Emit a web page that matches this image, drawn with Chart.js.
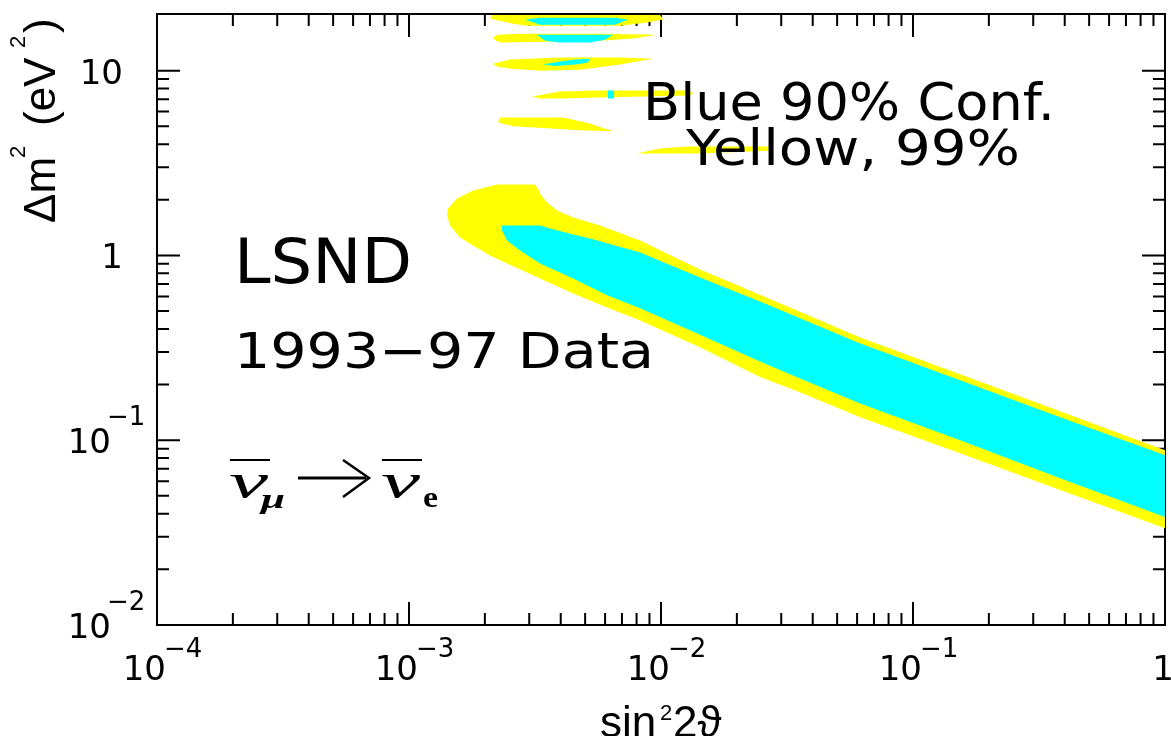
<!DOCTYPE html>
<html>
<head>
<meta charset="utf-8">
<script src="https://cdn.jsdelivr.net/npm/chart.js@4.4.1/dist/chart.umd.min.js"></script>
<style>
  html, body { margin: 0; padding: 0; background: #ffffff; }
  #wrap { width: 1171px; height: 736px; position: relative; }
</style>
</head>
<body>
<div id="wrap"><canvas id="c"></canvas></div>
<script>
// LSND anti-nu_mu -> anti-nu_e oscillation, allowed regions in (sin^2 2theta, dm^2)

// axis tick labels: base text and superscript exponent
const xTickValues = [1e-4, 1e-3, 1e-2, 1e-1, 1];
const xTickBase   = ['10', '10', '10', '10', '1'];
const xTickExp    = ['\u22124', '\u22123', '\u22122', '\u22121', ''];
const yTickValues = [1e-2, 1e-1, 1, 10];
const yTickBase   = ['10', '10', '1', '10'];
const yTickExp    = ['\u22122', '\u22121', '', ''];

// 99% C.L. main band, outline as [sin^2 2theta, dm^2]
const band99 = [
  [2.235e-3, 2.42], [3.162e-3, 2.42], [3.249e-3, 2.30], [3.309e-3, 2.163], [3.529e-3, 1.934],
  [3.867e-3, 1.751], [4.48e-3, 1.605], [5.727e-3, 1.453], [8.26e-3, 1.205], [1.428e-2, 0.840],
  [2.471e-2, 0.612], [3.56e-2, 0.495], [6.17e-2, 0.360], [0.1538, 0.2274], [0.3835, 0.1435],
  [1.0, 0.0883], [1.05, 0.085], [1.05, 0.032], [1.0, 0.0334], [0.3835, 0.0537],
  [0.1538, 0.0851], [6.17e-2, 0.133], [3.56e-2, 0.182], [2.471e-2, 0.220], [1.428e-2, 0.318],
  [8.26e-3, 0.445], [6.11e-3, 0.523], [4.48e-3, 0.623], [3.309e-3, 0.751], [2.449e-3, 0.905],
  [2.096e-3, 1.0], [1.795e-3, 1.133], [1.593e-3, 1.251], [1.455e-3, 1.453], [1.415e-3, 1.645],
  [1.428e-3, 1.795], [1.55e-3, 2.033], [1.795e-3, 2.246]
];

// 90% C.L. main band
const band90 = [
  [2.339e-3, 1.453], [3.309e-3, 1.453], [3.63e-3, 1.399], [4.48e-3, 1.299], [5.228e-3, 1.236],
  [8.26e-3, 1.038], [1.428e-2, 0.760], [2.471e-2, 0.564], [3.56e-2, 0.457], [6.17e-2, 0.334],
  [0.1538, 0.211], [0.3835, 0.133], [1.0, 0.083], [1.05, 0.080], [1.05, 0.037],
  [1.0, 0.0384], [0.3835, 0.0623], [0.1538, 0.100], [6.17e-2, 0.158], [3.56e-2, 0.216],
  [2.471e-2, 0.267], [1.428e-2, 0.372], [8.26e-3, 0.517], [6.11e-3, 0.608], [4.48e-3, 0.751],
  [3.309e-3, 0.905], [2.759e-3, 1.064], [2.449e-3, 1.205], [2.339e-3, 1.365]
];

// high dm^2 islands, 99% C.L.
const island99A = [
  [2.10e-3, 19.1], [2.20e-3, 22], [9.47e-3, 22], [1.02e-2, 18.9], [8.80e-3, 18.2],
  [6.87e-3, 17.5], [2.94e-3, 17.5], [2.59e-3, 17.95]
];
const island99B = [
  [2.15e-3, 15.1], [2.25e-3, 15.65], [2.76e-3, 15.85], [5.73e-3, 15.85], [9.64e-3, 15.65],
  [7.74e-3, 14.9], [5.73e-3, 14.5], [2.30e-3, 14.2], [2.20e-3, 14.6]
];
const island99C = [
  [2.15e-3, 10.9], [2.52e-3, 11.5], [3.97e-3, 11.76], [6.87e-3, 11.76], [9.30e-3, 11.6],
  [6.87e-3, 10.8], [4.77e-3, 10.1], [3.31e-3, 10.0], [2.52e-3, 10.25], [2.25e-3, 10.5]
];
const island99D = [
  [3.08e-3, 7.24], [3.97e-3, 7.70], [5.73e-3, 7.80], [1.30e-2, 7.80], [1.34e-2, 7.51],
  [1.30e-2, 7.33], [5.73e-3, 7.15], [3.97e-3, 7.06], [3.31e-3, 7.06]
];
const island99E = [
  [2.26e-3, 5.37], [2.30e-3, 5.57], [4.08e-3, 5.57], [5.13e-3, 5.2], [6.45e-3, 4.70],
  [4.77e-3, 4.75], [2.59e-3, 5.0], [2.30e-3, 5.2]
];
const island99F = [
  [8.03e-3, 3.56], [9.91e-3, 3.79], [1.27e-2, 3.88], [2.78e-2, 3.88], [2.78e-2, 3.70],
  [1.43e-2, 3.56]
];

// high dm^2 islands, 90% C.L.
const island90A = [
  [2.89e-3, 18.9], [3.31e-3, 19.3], [6.57e-3, 19.3], [7.40e-3, 18.9], [6.57e-3, 17.7],
  [3.31e-3, 17.7]
];
const island90B = [
  [3.22e-3, 15.65], [6.45e-3, 15.65], [6.0e-3, 14.7], [5.23e-3, 14.2], [3.97e-3, 14.2],
  [3.47e-3, 14.5]
];
const island90C = [
  [3.40e-3, 10.8], [3.97e-3, 11.2], [4.56e-3, 11.5], [5.23e-3, 11.6], [5.13e-3, 11.05],
  [4.56e-3, 10.8], [3.80e-3, 10.6]
];
const island90D = [
  [6.16e-3, 7.80], [6.51e-3, 7.80], [6.51e-3, 7.06], [6.16e-3, 7.06]
];

const YELLOW = '#ffff00';
const CYAN = '#00ffff';
const INK = '#000000';

function region(points, color, order) {
  return {
    data: points.map(p => ({ x: p[0], y: p[1] })),
    backgroundColor: color,
    borderColor: color,
    borderWidth: 0,
    pointRadius: 0,
    pointHoverRadius: 0,
    tension: 0,
    fill: 'shape',
    order: order
  };
}

const datasets = [
  region(band90, CYAN, 1),
  region(island90A, CYAN, 1),
  region(island90B, CYAN, 1),
  region(island90C, CYAN, 1),
  region(island90D, CYAN, 1),
  region(band99, YELLOW, 2),
  region(island99A, YELLOW, 2),
  region(island99B, YELLOW, 2),
  region(island99C, YELLOW, 2),
  region(island99D, YELLOW, 2),
  region(island99E, YELLOW, 2),
  region(island99F, YELLOW, 2)
];

// draw text stretched horizontally to a given width
function fitText(ctx, str, x, y, w, font) {
  ctx.save();
  ctx.font = font;
  const m = ctx.measureText(str).width;
  ctx.translate(x, y);
  ctx.scale(w / m, 1);
  ctx.textAlign = 'left';
  ctx.textBaseline = 'alphabetic';
  ctx.fillText(str, 0, 0);
  ctx.restore();
}

function minorValues(min, max) {
  const out = [];
  for (let k = Math.floor(Math.log10(min)); k <= Math.ceil(Math.log10(max)); k++) {
    for (let m = 2; m <= 9; m++) {
      const v = m * Math.pow(10, k);
      if (v > min && v < max) out.push(v);
    }
  }
  return out;
}

const framePlugin = {
  id: 'frame',
  beforeDatasetsDraw(chart) {
    const { ctx, chartArea: a, scales: { x, y } } = chart;
    ctx.save();
    ctx.strokeStyle = INK;
    ctx.lineWidth = 2;
    ctx.lineCap = 'butt';
    ctx.beginPath();
    ctx.moveTo(a.left, a.top - 1); ctx.lineTo(a.right, a.top - 1);
    ctx.lineTo(a.right, a.bottom); ctx.lineTo(a.left, a.bottom);
    ctx.closePath();
    ctx.stroke();

    const major = 23, minor = 12;
    ctx.beginPath();
    xTickValues.forEach(v => {
      const px = x.getPixelForValue(v);
      ctx.moveTo(px, a.bottom); ctx.lineTo(px, a.bottom - major);
      ctx.moveTo(px, a.top - 1); ctx.lineTo(px, a.top - 1 + major);
    });
    minorValues(x.min, x.max).forEach(v => {
      const px = x.getPixelForValue(v);
      ctx.moveTo(px, a.bottom); ctx.lineTo(px, a.bottom - minor);
      ctx.moveTo(px, a.top - 1); ctx.lineTo(px, a.top - 1 + minor);
    });
    yTickValues.forEach(v => {
      const py = y.getPixelForValue(v);
      ctx.moveTo(a.left, py); ctx.lineTo(a.left + major, py);
      ctx.moveTo(a.right, py); ctx.lineTo(a.right - major, py);
    });
    minorValues(y.min, y.max).forEach(v => {
      const py = y.getPixelForValue(v);
      ctx.moveTo(a.left, py); ctx.lineTo(a.left + minor, py);
      ctx.moveTo(a.right, py); ctx.lineTo(a.right - minor, py);
    });
    ctx.stroke();
    ctx.restore();
  },
  afterDatasetsDraw(chart) {
    const { ctx, scales: { x, y } } = chart;
    ctx.save();
    ctx.fillStyle = INK;
    ctx.textBaseline = 'alphabetic';
    const baseFont = '34px "DejaVu Sans"';
    const expFont = '26px "DejaVu Sans"';

    // x tick labels
    xTickValues.forEach((v, i) => {
      const px = x.getPixelForValue(v);
      if (xTickExp[i]) {
        ctx.font = baseFont; ctx.textAlign = 'right';
        ctx.fillText(xTickBase[i], px + 9, 680);
        ctx.font = expFont; ctx.textAlign = 'left';
        ctx.fillText(xTickExp[i], px + 7, 657);
      } else {
        ctx.font = baseFont; ctx.textAlign = 'center';
        ctx.fillText(xTickBase[i], px - 2, 680);
      }
    });
    // y tick labels
    yTickValues.forEach((v, i) => {
      const py = y.getPixelForValue(v);
      if (yTickExp[i]) {
        ctx.font = baseFont; ctx.textAlign = 'right';
        ctx.fillText(yTickBase[i], 111, py + 13);
        ctx.font = expFont; ctx.textAlign = 'left';
        ctx.fillText(yTickExp[i], 107, py - 15);
      } else {
        ctx.font = baseFont; ctx.textAlign = 'right';
        ctx.fillText(yTickBase[i], 123, py + 13);
      }
    });

    // axis titles
    const titleFont = '44px "Liberation Sans", "DejaVu Sans"';
    const supFont = '22px "Liberation Sans"';
    ctx.textAlign = 'left';
    ctx.font = titleFont;
    ctx.fillText('sin', 600, 737);
    ctx.font = supFont;
    ctx.fillText('2', 660, 720);
    ctx.font = titleFont;
    ctx.fillText('2\u03d1', 673, 737);

    ctx.save();
    ctx.translate(55, 223);
    ctx.rotate(-Math.PI / 2);
    ctx.font = titleFont;
    ctx.fillText('\u0394m', 0, 0);
    ctx.font = supFont;
    ctx.fillText('2', 65, -30);
    ctx.font = titleFont;
    ctx.fillText('(eV', 97, 0);
    ctx.font = supFont;
    ctx.fillText('2', 175, -30);
    ctx.font = titleFont;
    ctx.fillText(')', 190, 0);
    ctx.restore();

    // annotations
    fitText(ctx, 'Blue 90% Conf.', 643, 120, 412, '51px "DejaVu Sans"');
    fitText(ctx, 'Yellow, 99%', 686, 165, 334, '50px "DejaVu Sans"');
    fitText(ctx, 'LSND', 234, 283, 178, '62px "DejaVu Sans"');
    fitText(ctx, '1993\u221297 Data', 234, 368, 420, '50px "DejaVu Sans"');

    // anti-nu_mu -> anti-nu_e
    ctx.strokeStyle = INK;
    ctx.lineWidth = 2;
    ctx.beginPath();
    ctx.moveTo(230, 460); ctx.lineTo(270, 460);
    ctx.moveTo(382, 460); ctx.lineTo(422, 460);
    ctx.stroke();
    fitText(ctx, '\u03bd', 229, 498, 39, 'italic 50px "Liberation Serif"');
    fitText(ctx, '\u03bc', 261, 508, 24, 'italic bold 28px "Liberation Serif"');
    fitText(ctx, '\u03bd', 381, 498, 39, 'italic 50px "Liberation Serif"');
    fitText(ctx, 'e', 423, 507, 15, 'bold 30px "Liberation Serif"');
    ctx.lineWidth = 3;
    ctx.beginPath();
    ctx.moveTo(298, 478); ctx.lineTo(366, 478);
    ctx.stroke();
    ctx.lineWidth = 2.5;
    ctx.beginPath();
    ctx.moveTo(343, 460); ctx.lineTo(369, 478); ctx.lineTo(343, 497);
    ctx.stroke();
    ctx.restore();
  }
};

new Chart(document.getElementById('c'), {
  type: 'line',
  data: { datasets },
  options: {
    responsive: true,
    maintainAspectRatio: false,
    animation: false,
    layout: { padding: { left: 157, right: 6, top: 15, bottom: 111 } },
    plugins: {
      legend: { display: false },
      tooltip: { enabled: false },
      filler: { propagate: false }
    },
    scales: {
      x: { type: 'logarithmic', min: 1e-4, max: 1, display: false },
      y: { type: 'logarithmic', min: 1e-2, max: 20, display: false }
    }
  },
  plugins: [framePlugin]
});
</script>
</body>
</html>
